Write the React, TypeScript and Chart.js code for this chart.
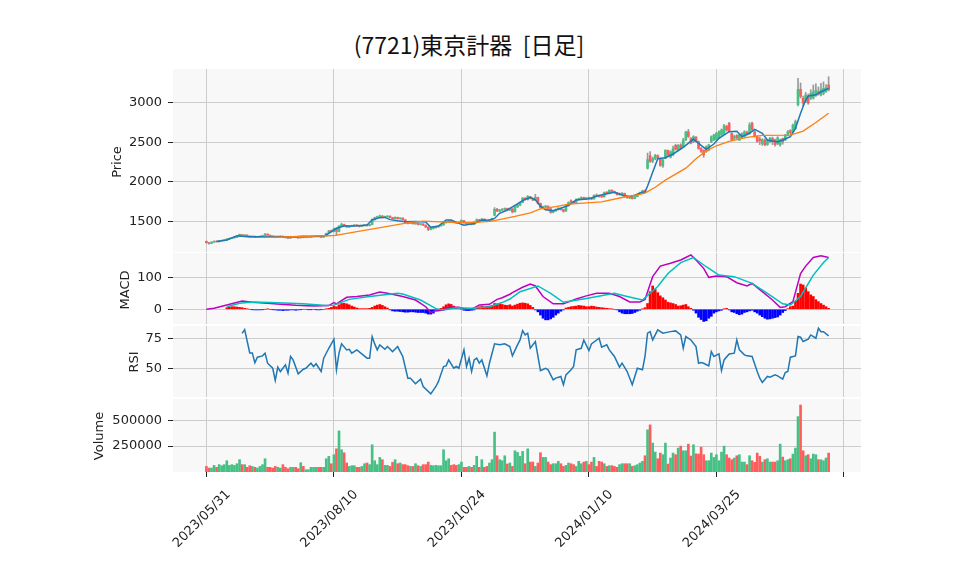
import React, { useEffect, useRef } from 'react';
import { Chart, registerables } from 'chart.js';

Chart.register(...registerables);

// ---------- data ----------
const tickIdx = [0, 50, 100, 150, 200, 250];
const tickLabels = ['2023/05/31', '2023/08/10', '2023/10/24', '2024/01/10', '2024/03/25', ''];

const opens = [
  1245,1228,1220,1235,1248,1240,1250,1256,1262,1275,
  1282,1290,1296,1308,1330,1316,1325,1312,1300,1310,
  1296,1302,1308,1315,1336,1322,1312,1304,1296,1304,
  1310,1300,1294,1286,1296,1304,1296,1290,1302,1294,
  1298,1300,1304,1308,1314,1306,1298,1312,1345,1380,
  1370,1408,1372,1436,1458,1444,1426,1436,1444,1452,
  1442,1434,1442,1452,1444,1458,1520,1540,1550,1566,
  1550,1556,1564,1546,1532,1548,1530,1540,1518,1486,
  1472,1480,1466,1474,1458,1466,1450,1426,1396,1408,
  1418,1428,1440,1452,1482,1490,1504,1492,1486,1476,
  1486,1508,1480,1466,1478,1460,1488,1520,1506,1526,
  1504,1496,1516,1575,1652,1626,1640,1650,1662,1640,
  1656,1620,1680,1702,1738,1792,1772,1810,1790,1766,
  1800,1726,1665,1680,1690,1656,1612,1630,1646,1664,
  1648,1628,1696,1760,1745,1738,1773,1783,1800,1778,
  1800,1790,1782,1830,1826,1820,1808,1868,1850,1892,
  1878,1862,1836,1840,1852,1822,1795,1806,1788,1812,
  1840,1862,1888,2170,2330,2262,2290,2330,2292,2200,
  2296,2398,2310,2338,2460,2400,2465,2443,2530,2632,
  2550,2505,2565,2505,2420,2395,2380,2400,2505,2527,
  2535,2552,2592,2612,2700,2740,2612,2548,2585,2527,
  2562,2572,2625,2612,2740,2633,2570,2540,2480,2527,
  2470,2507,2550,2527,2480,2465,2545,2527,2590,2645,
  2633,2675,2975,3170,3056,3015,3077,3056,3060,3090,
  3140,3098,3120,3140,3225,
];
const highs = [
  1250,1232,1240,1250,1252,1255,1262,1268,1280,1288,
  1295,1300,1312,1338,1335,1330,1328,1316,1315,1312,
  1308,1314,1322,1342,1340,1326,1315,1308,1310,1315,
  1312,1304,1298,1300,1308,1306,1300,1306,1305,1302,
  1306,1310,1314,1318,1316,1310,1316,1350,1385,1388,
  1412,1415,1445,1475,1462,1448,1444,1450,1458,1456,
  1446,1448,1458,1456,1462,1530,1552,1565,1578,1572,
  1566,1570,1568,1550,1555,1552,1545,1542,1520,1490,
  1488,1485,1480,1478,1472,1468,1452,1430,1415,1426,
  1434,1448,1460,1492,1498,1512,1508,1496,1490,1494,
  1518,1510,1484,1484,1482,1496,1528,1524,1534,1530,
  1508,1524,1540,1672,1662,1650,1660,1668,1666,1665,
  1660,1690,1712,1742,1800,1798,1825,1815,1795,1840,
  1805,1730,1690,1700,1695,1662,1640,1655,1672,1668,
  1652,1705,1745,1770,1752,1782,1792,1808,1806,1800,
  1805,1795,1835,1845,1832,1826,1870,1875,1898,1898,
  1882,1866,1858,1862,1856,1826,1815,1810,1818,1846,
  1868,1892,1896,2362,2380,2312,2345,2340,2300,2285,
  2405,2402,2392,2450,2475,2470,2480,2550,2640,2663,
  2560,2582,2572,2515,2432,2405,2455,2475,2580,2600,
  2625,2645,2668,2725,2715,2752,2620,2592,2595,2600,
  2620,2645,2640,2747,2755,2645,2580,2565,2545,2542,
  2530,2562,2565,2540,2570,2540,2552,2600,2650,2660,
  2730,2781,3309,3250,3085,3130,3110,3165,3225,3240,
  3200,3245,3265,3230,3330,
];
const lows = [
  1222,1210,1215,1230,1235,1236,1246,1250,1258,1270,
  1278,1285,1292,1305,1312,1312,1308,1295,1296,1290,
  1292,1298,1305,1312,1318,1306,1296,1290,1292,1300,
  1294,1286,1280,1282,1292,1290,1282,1286,1290,1290,
  1294,1296,1300,1304,1300,1292,1295,1310,1342,1360,
  1365,1320,1365,1430,1435,1420,1420,1432,1438,1436,
  1426,1430,1438,1438,1440,1452,1512,1535,1545,1545,
  1545,1550,1540,1526,1528,1526,1526,1515,1478,1465,
  1468,1462,1460,1452,1452,1444,1420,1380,1390,1402,
  1412,1422,1436,1448,1476,1484,1486,1478,1470,1472,
  1482,1476,1462,1460,1452,1455,1484,1502,1502,1496,
  1490,1492,1512,1568,1620,1618,1632,1640,1632,1636,
  1605,1615,1672,1698,1732,1765,1768,1782,1760,1760,
  1720,1665,1655,1672,1650,1600,1605,1625,1640,1640,
  1615,1624,1690,1735,1725,1734,1768,1778,1775,1774,
  1780,1772,1778,1815,1805,1800,1805,1845,1846,1868,
  1855,1830,1830,1832,1818,1790,1785,1780,1784,1808,
  1835,1856,1866,2160,2245,2240,2278,2288,2196,2180,
  2290,2330,2300,2330,2400,2390,2410,2436,2520,2560,
  2480,2495,2505,2410,2370,2310,2370,2390,2495,2520,
  2522,2545,2585,2600,2640,2628,2520,2530,2545,2520,
  2555,2565,2590,2600,2648,2562,2498,2470,2460,2455,
  2460,2490,2470,2450,2470,2450,2475,2520,2580,2600,
  2625,2665,2960,3060,2960,3000,2980,3040,3045,3080,
  3095,3085,3100,3130,3150,
];
const closes = [
  1228,1218,1235,1245,1240,1250,1258,1262,1275,1282,
  1290,1296,1305,1332,1318,1326,1312,1300,1310,1296,
  1302,1310,1318,1338,1322,1312,1302,1296,1304,1310,
  1300,1292,1285,1296,1304,1296,1288,1302,1294,1298,
  1302,1306,1310,1314,1306,1298,1312,1345,1378,1368,
  1405,1370,1438,1460,1442,1428,1438,1446,1452,1442,
  1434,1444,1452,1444,1456,1522,1545,1558,1568,1552,
  1560,1565,1546,1532,1548,1532,1540,1520,1484,1472,
  1482,1468,1475,1458,1466,1450,1426,1395,1410,1420,
  1428,1442,1455,1485,1492,1505,1492,1484,1476,1488,
  1510,1480,1468,1478,1460,1490,1520,1508,1528,1502,
  1496,1518,1535,1650,1630,1642,1652,1662,1640,1658,
  1618,1682,1705,1738,1792,1775,1812,1790,1768,1802,
  1728,1672,1682,1692,1658,1612,1632,1648,1665,1648,
  1625,1698,1738,1745,1735,1775,1785,1800,1780,1795,
  1788,1780,1828,1822,1815,1808,1862,1852,1890,1875,
  1862,1838,1850,1855,1822,1796,1808,1786,1812,1840,
  1862,1885,1875,2280,2255,2292,2336,2300,2205,2272,
  2398,2340,2380,2420,2410,2462,2420,2527,2630,2572,
  2488,2570,2515,2420,2385,2340,2443,2465,2570,2592,
  2612,2633,2655,2708,2655,2636,2530,2572,2558,2590,
  2612,2633,2602,2718,2660,2575,2510,2520,2530,2468,
  2520,2550,2512,2470,2555,2527,2505,2590,2633,2622,
  2718,2760,3170,3080,2995,3098,2995,3120,3140,3160,
  3110,3161,3182,3190,3165,
];
const volumes = [
  54000,38000,38000,64000,45000,71000,61000,71000,109000,64000,
  71000,64000,80000,119000,71000,71000,45000,61000,54000,45000,
  38000,54000,71000,128000,45000,45000,38000,54000,45000,38000,
  71000,45000,32000,45000,45000,45000,32000,90000,54000,22000,
  22000,45000,45000,45000,45000,45000,45000,128000,151000,80000,
  167000,224000,397000,215000,186000,87000,54000,61000,61000,45000,
  45000,54000,80000,87000,71000,263000,109000,71000,141000,119000,
  64000,64000,54000,93000,119000,80000,87000,71000,71000,61000,
  54000,54000,80000,61000,54000,71000,71000,96000,64000,61000,
  64000,61000,61000,215000,109000,128000,64000,71000,64000,71000,
  96000,45000,45000,54000,45000,64000,151000,45000,119000,45000,
  54000,87000,119000,385000,157000,119000,109000,157000,77000,87000,
  54000,205000,189000,151000,199000,80000,224000,96000,96000,54000,
  87000,186000,141000,141000,96000,71000,80000,80000,103000,80000,
  54000,64000,87000,80000,71000,54000,103000,80000,96000,103000,
  71000,96000,141000,54000,103000,96000,80000,54000,61000,61000,
  54000,45000,71000,80000,80000,80000,80000,54000,61000,71000,
  87000,103000,157000,407000,455000,279000,192000,128000,183000,167000,
  279000,77000,135000,183000,167000,231000,250000,205000,205000,269000,
  154000,263000,176000,173000,240000,167000,109000,109000,183000,141000,
  167000,109000,192000,250000,167000,135000,119000,135000,157000,167000,
  96000,96000,71000,157000,109000,93000,183000,151000,96000,119000,
  128000,96000,96000,96000,109000,269000,144000,109000,119000,128000,
  173000,231000,535000,647000,205000,157000,167000,128000,173000,167000,
  119000,119000,109000,135000,183000,
];

// [dayIndex, value]
const ma5 = [
  [4,1242],[8,1262],[12,1316],[16,1304],[20,1302],[23,1300],[27,1306],[31,1304],[35,1302],[38,1308],
  [42,1306],[45,1308],[47,1325],[49,1367],[51,1410],[54,1439],[58,1439],[63,1452],[65,1515],[68,1545],
  [70,1548],[72,1520],[75,1505],[78,1494],[82,1495],[86,1490],[88,1422],[91,1439],[94,1515],[96,1515],
  [99,1473],[101,1448],[105,1470],[108,1515],[111,1512],[113,1535],[115,1600],[118,1642],[121,1700],[124,1760],
  [127,1802],[129,1770],[131,1690],[133,1645],[136,1633],[139,1663],[142,1700],[145,1768],[150,1785],[154,1825],
  [158,1855],[160,1866],[164,1820],[166,1812],[168,1830],[171,1868],[172,1870],[173,1945],[174,2030],[175,2120],
  [177,2290],[180,2304],[183,2351],[187,2435],[191,2540],[193,2486],[196,2410],[199,2477],[201,2549],[205,2633],
  [208,2638],[210,2570],[213,2613],[215,2663],[218,2613],[220,2528],[224,2503],[226,2528],[229,2570],[231,2676],
  [233,2866],[235,3034],[236,3085],[239,3100],[241,3139],[244,3182],
];
const ma25 = [
  [24,1296],[47,1316],[50,1318],[80,1486],[85,1500],[99,1481],[103,1478],[112,1502],[121,1560],[127,1605],
  [131,1655],[137,1685],[142,1715],[155,1745],[163,1800],[170,1840],[172,1855],[176,1930],[180,2020],[188,2172],
  [192,2290],[196,2390],[200,2455],[205,2512],[212,2562],[218,2587],[229,2590],[234,2640],[239,2750],[244,2866],
];
const macdLine = [
  [0,0],[3,3],[8,13.5],[14,26],[18,22],[24,19],[29,16],[35,12.5],[42,10.4],[48,11.5],
  [50,21],[51,17],[55,37.5],[59,40],[64,45],[68,54],[71,50],[77,40],[82,29],[86,8],
  [88,-10],[90,-5],[93,-2],[95,6],[99,6],[102,0],[104,0],[107,13.5],[111,15.6],[114,31],
  [116,36],[119,47],[120,52],[124,69],[127,79],[129,73],[132,40],[136,17],[140,17],[145,32],
  [149,42],[153,50],[158,50],[162,40],[166,23],[170,23],[172,31],[175,102],[178,135],[182,144],
  [186,154],[188,162],[190,170],[192,154],[195,128],[197,100],[200,104],[204,102],[208,83],[212,73],
  [214,81],[218,55],[222,29],[225,6],[227,8],[230,24],[233,112],[235,135],[238,162],[241,167],[244,162],
];
const signalLine = [
  [8,8],[13,19],[18,23],[25,21],[38,17],[47,11.5],[50,13],[56,31],[64,40],[69,45],
  [75,50],[77,48],[84,29],[90,2],[93,-2],[98,5],[104,3],[111,8],[116,21],[119,32],
  [123,55],[130,73],[135,50],[140,22],[149,34],[160,50],[165,40],[171,29],[177,71],[181,112],
  [186,146],[191,162],[196,133],[201,107],[207,102],[214,81],[220,50],[226,17],[229,13.5],[233,40],
  [238,107],[242,146],[244,162],
];
const macdHist = [
  null,null,null,null,null,null,null,null,5,7,
  8,8,7,6,5,3,1,0,-1,-2,
  -2,-2,-1,0,1,0,-1,-2,-3,-3,
  -4,-3,-3,-2,-2,-3,-2,-1,0,0,
  -1,-1,0,-1,-2,-1,0,1,3,6,
  10,8,14,18,19,17,14,10,7,4,
  2,2,2,2,3,6,10,13,15,12,
  8,4,-2,-5,-6,-6,-7,-8,-9,-9,
  -8,-8,-9,-10,-10,-10,-12,-15,-15,-12,
  -3,0,3,8,14,17,15,10,5,2,
  0,-3,-4,-4,-3,-2,3,8,10,8,
  9,10,12,18,17,16,15,13,12,14,
  10,13,16,19,20,19,17,12,6,-2,
  -8,-18,-28,-33,-33,-30,-25,-18,-12,-6,
  -2,4,6,8,9,10,12,11,10,8,
  8,10,9,7,6,5,4,3,2,1,
  0,-2,-8,-12,-14,-14,-14,-13,-10,-6,
  -3,1,5,18,55,73,62,52,42,36,
  29,22,20,18,15,10,11,13,15,8,
  3,-3,-12,-25,-32,-38,-36,-28,-22,-12,
  -8,-5,-3,1,3,-2,-8,-10,-14,-17,
  -15,-10,-8,-5,-3,-8,-12,-18,-23,-28,
  -31,-30,-28,-26,-24,-18,-10,-4,2,8,
  10,25,50,79,76,66,55,45,40,30,
  24,18,13,8,3,
];
const rsi = [
  [14,79],[15,82],[17,63],[18,63],[19,55],[20,59.5],[22,60.6],[23,62.8],[24,54.6],[26,50.5],
  [27,40.5],[28,51.4],[29,47.8],[31,53.3],[32,46.5],[33,60.1],[34,57.3],[36,45.9],[38,49.7],[39,50.5],
  [41,54.6],[42,51.9],[43,54.1],[45,47.8],[46,58.7],[48,66.8],[50,74.2],[51,49.2],[52,62.8],[53,70.4],
  [55,65.5],[56,66],[57,62.8],[59,65.5],[63,58.7],[64,58.7],[65,76.4],[66,70.4],[67,65.5],[68,69.6],
  [70,66],[71,68.2],[73,64.1],[75,68.2],[76,64.1],[77,60.1],[79,42.4],[80,42.4],[82,37.8],[84,41.6],
  [85,35.6],[88,29.6],[90,35.6],[91,39.7],[93,51.9],[94,52.4],[95,57.3],[97,50.5],[98,51.9],[99,50.5],
  [101,65.5],[102,51.9],[103,58.7],[104,47.8],[105,57.3],[106,58.7],[107,54.6],[108,57.3],[110,44.3],[111,54.6],
  [113,70.4],[115,69.6],[117,70.4],[119,68.2],[120,60.6],[122,69.6],[123,73.6],[124,81.2],[125,77.7],[126,79.1],
  [127,66.8],[129,72.3],[131,48.6],[133,50.5],[134,49.2],[136,41],[137,42.4],[139,43.8],[140,37],[141,45.1],
  [143,49.2],[144,51.9],[145,65.5],[147,66.8],[148,73.6],[150,64.9],[151,70.4],[154,75],[155,67.7],[157,69.6],
  [158,65.5],[160,60.1],[162,51.4],[163,54.6],[165,47.8],[167,37],[168,43.8],[169,50.5],[171,49.2],[172,60.1],
  [173,79.1],[174,80.4],[175,73.6],[177,81.8],[179,79.1],[182,80.4],[184,81],[186,77.7],[187,66.8],[188,76.4],
  [190,73.6],[192,68.2],[193,54.6],[194,55.2],[195,54.6],[197,52.4],[198,64.1],[199,60.1],[201,62.2],[202,48.6],
  [203,57.3],[205,62.2],[207,62.8],[208,73.6],[209,65.5],[211,61.4],[212,60.6],[214,60.1],[216,47.8],[217,42.4],
  [218,38.9],[220,43.8],[221,43.2],[223,45.1],[224,44.3],[226,41.6],[227,47],[228,47.8],[229,59.5],[231,60.6],
  [232,76.4],[233,75.8],[234,72.3],[236,74.2],[237,77.7],[239,75],[240,83.2],[241,80.4],[242,80.4],[244,76.9],
];

// ---------- styling ----------
const GREEN = '#47c085';
const RED = '#ff5c5c';
const FONT = "'DejaVu Sans', sans-serif";
const W = 958;
const AREA_LEFT = 173;
const AREA_RIGHT = 861;
const X_MIN = -13.1;
const X_MAX = 256.7;

const bgPlugin = {
  id: 'panelBg',
  beforeDraw(chart: any) {
    const { ctx, chartArea } = chart;
    if (!chartArea) return;
    ctx.save();
    ctx.fillStyle = '#f8f8f8';
    ctx.fillRect(chartArea.left, chartArea.top, chartArea.right - chartArea.left, chartArea.bottom - chartArea.top);
    ctx.restore();
  },
};

const toXY = (pairs: number[][]) => pairs.map(([x, y]) => ({ x, y }));

function xScale(showLabels: boolean): any {
  return {
    type: 'linear',
    min: X_MIN,
    max: X_MAX,
    offset: false,
    afterBuildTicks: (s: any) => { s.ticks = tickIdx.map((v) => ({ value: v })); },
    grid: { offset: false, color: '#cccccc', lineWidth: 1, drawTicks: showLabels, tickLength: 5, tickColor: '#222222', tickWidth: 1 },
    border: { display: false },
    ticks: showLabels
      ? {
          display: true,
          autoSkip: false,
          minRotation: 45,
          maxRotation: 45,
          labelOffset: 22,
          padding: 10,
          color: '#222222',
          font: { family: FONT, size: 13 },
          callback: (v: number) => { const k = tickIdx.indexOf(v); return k >= 0 ? tickLabels[k] : ''; },
        }
      : { display: false },
    afterFit: (s: any) => { s.height = showLabels ? 103 : 0; s.paddingLeft = 0; s.paddingRight = 0; },
  };
}

function yScale(min: number, max: number, ticks: number[]): any {
  return {
    type: 'linear',
    position: 'left',
    min,
    max,
    afterBuildTicks: (s: any) => { s.ticks = ticks.map((v) => ({ value: v })); },
    grid: { color: '#cccccc', lineWidth: 1, drawTicks: true, tickLength: 5, tickColor: '#222222', tickWidth: 1 },
    border: { display: false },
    ticks: { color: '#222222', font: { family: FONT, size: 13 }, padding: 6, callback: (v: number) => String(v) },
    afterFit: (s: any) => { s.width = AREA_LEFT; s.paddingTop = 0; s.paddingBottom = 0; },
  };
}

function options(showX: boolean, y: any): any {
  return {
    animation: false,
    responsive: false,
    maintainAspectRatio: false,
    events: [],
    layout: { padding: { left: 0, right: W - AREA_RIGHT, top: 0, bottom: 0 } },
    plugins: { legend: { display: false }, tooltip: { enabled: false }, title: { display: false } },
    scales: { x: xScale(showX), y },
  };
}

const axisLabel = (cx: number, cy: number): React.CSSProperties => ({
  position: 'absolute',
  left: cx,
  top: cy,
  transform: 'translate(-50%, -50%) rotate(-90deg)',
  font: `13px ${FONT}`,
  lineHeight: '13px',
  whiteSpace: 'nowrap',
  color: '#222222',
});

export default function App() {
  const priceRef = useRef<HTMLCanvasElement>(null);
  const macdRef = useRef<HTMLCanvasElement>(null);
  const rsiRef = useRef<HTMLCanvasElement>(null);
  const volRef = useRef<HTMLCanvasElement>(null);

  useEffect(() => {
    const up = closes.map((c, i) => c >= opens[i]);
    const charts: Chart[] = [];

    charts.push(new Chart(priceRef.current as HTMLCanvasElement, {
      type: 'bar',
      data: {
        datasets: [
          { type: 'line', data: toXY(ma25), borderColor: '#ff7f0e', borderWidth: 1.3, pointRadius: 0, tension: 0, order: 0 } as any,
          { type: 'line', data: toXY(ma5), borderColor: '#1f77b4', borderWidth: 1.5, pointRadius: 0, tension: 0, order: 1 } as any,
          { type: 'bar', data: closes.map((c, i) => ({ x: i, y: [opens[i], c] })), backgroundColor: up.map((u) => (u ? GREEN : RED)), barThickness: 2, grouped: false, order: 2 } as any,
          { type: 'bar', data: lows.map((l, i) => ({ x: i, y: [l, highs[i]] })), backgroundColor: '#999999', barThickness: 1, grouped: false, order: 3 } as any,
        ],
      },
      options: options(false, yScale(1110, 3427, [1500, 2000, 2500, 3000])),
      plugins: [bgPlugin],
    }));

    charts.push(new Chart(macdRef.current as HTMLCanvasElement, {
      type: 'bar',
      data: {
        datasets: [
          { type: 'line', data: toXY(signalLine), borderColor: '#00bfbf', borderWidth: 1.5, pointRadius: 0, tension: 0, order: 0 } as any,
          { type: 'line', data: toXY(macdLine), borderColor: '#bf00bf', borderWidth: 1.5, pointRadius: 0, tension: 0, order: 1 } as any,
          { type: 'bar', data: macdHist.map((v, i) => ({ x: i, y: v })), backgroundColor: macdHist.map((v) => ((v ?? 0) >= 0 ? '#ff0000' : '#0000ff')), barThickness: 2, grouped: false, order: 2 } as any,
        ],
      },
      options: options(false, yScale(-46, 176, [0, 100])),
      plugins: [bgPlugin],
    }));

    charts.push(new Chart(rsiRef.current as HTMLCanvasElement, {
      type: 'line',
      data: {
        datasets: [
          { data: toXY(rsi), borderColor: '#1f77b4', borderWidth: 1.5, pointRadius: 0, tension: 0 } as any,
        ],
      },
      options: options(false, yScale(27, 85, [50, 75])),
      plugins: [bgPlugin],
    }));

    charts.push(new Chart(volRef.current as HTMLCanvasElement, {
      type: 'bar',
      data: {
        datasets: [
          { data: volumes.map((v, i) => ({ x: i, y: v })), backgroundColor: up.map((u) => (u ? GREEN : RED)), barThickness: 2, grouped: false } as any,
        ],
      },
      options: options(true, yScale(0, 705000, [250000, 500000])),
      plugins: [bgPlugin],
    }));

    return () => charts.forEach((c) => c.destroy());
  }, []);

  const cv = (top: number, h: number): React.CSSProperties => ({ position: 'absolute', left: 0, top, width: W, height: h, display: 'block' });

  return (
    <div style={{ position: 'absolute', left: 0, top: 0, width: W, height: 575, background: '#ffffff', overflow: 'hidden' }}>
      <div
        style={{
          position: 'absolute', left: 0, top: 30, width: 938, textAlign: 'center',
          font: "23px 'Noto Sans CJK JP', sans-serif", lineHeight: '28px', whiteSpace: 'pre', color: '#111111',
        }}
      >
        {'(7721)東京計器  [日足]'}
      </div>
      <canvas ref={priceRef} width={W} height={183} style={cv(69, 183)} />
      <canvas ref={macdRef} width={W} height={71} style={cv(253, 71)} />
      <canvas ref={rsiRef} width={W} height={71} style={cv(326, 71)} />
      <canvas ref={volRef} width={W} height={176} style={cv(399, 176)} />
      <div style={axisLabel(116, 162)}>Price</div>
      <div style={axisLabel(123.5, 290)}>MACD</div>
      <div style={axisLabel(132.5, 362)}>RSI</div>
      <div style={axisLabel(97.5, 436)}>Volume</div>
    </div>
  );
}
